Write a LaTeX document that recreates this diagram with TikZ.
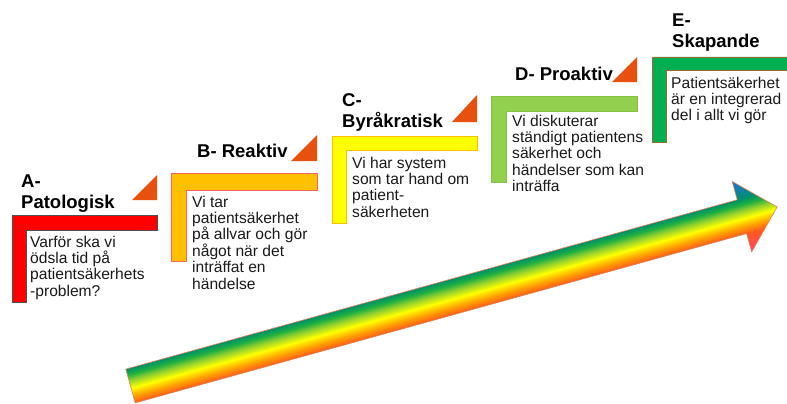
\documentclass[tikz,border=0pt]{standalone}
\usepackage{fontspec}
\setmainfont{Liberation Sans}
\definecolor{gpink}{HTML}{FF4470}
\definecolor{gred}{HTML}{FF5A1E}
\definecolor{gorange}{HTML}{FFA000}
\definecolor{gyellow}{HTML}{FFFF00}
\definecolor{glgreen}{HTML}{90D030}
\definecolor{ggreen}{HTML}{20B040}
\definecolor{gteal}{HTML}{00906A}
\definecolor{gblue}{HTML}{2070E0}
\definecolor{trired}{HTML}{E8500F}
\definecolor{lA}{HTML}{FF0000}
\definecolor{lAb}{HTML}{505050}
\definecolor{lB}{HTML}{FFC000}
\definecolor{lBb}{HTML}{FF6060}
\definecolor{lC}{HTML}{FFFF00}
\definecolor{lCb}{HTML}{FFC000}
\definecolor{lD}{HTML}{92D050}
\definecolor{lDb}{HTML}{86C044}
\definecolor{lE}{HTML}{00B050}
\definecolor{lEb}{HTML}{9C6B30}
\definecolor{txt}{HTML}{1A1A1A}
\definecolor{arrline}{HTML}{E08050}
\pgfdeclareverticalshading{arrowgrad}{100bp}{color(0bp)=(gpink); color(25bp)=(gpink); color(38bp)=(gred); color(43bp)=(gorange); color(48.6bp)=(gyellow); color(54bp)=(glgreen); color(58bp)=(ggreen); color(62bp)=(gteal); color(75bp)=(gblue); color(100bp)=(gblue)}
\newcommand\titlefont{\fontsize{18.5}{20.5}\selectfont\bfseries}
\newcommand\bodyfont{\fontsize{15.6}{16.4}\selectfont}
\tikzset{
  lbox/.style={line width=0.8pt},
  tri/.style={fill=trired, draw=none},
  title/.style={font=\titlefont, text=black, anchor=north west, inner sep=0pt, align=left, execute at begin node=\strut},
  body/.style={font=\bodyfont, text=txt, anchor=north west, inner sep=0pt, align=left, execute at begin node=\strut}
}
\begin{document}
\begin{tikzpicture}[x=1pt,y=-1pt]
\useasboundingbox[fill=white] (0,0) rectangle (787,404);
% gradient arrow
\begin{scope}[transform canvas={shift={(130.5,386)}, rotate=15.48}]
  \path[shading=arrowgrad, draw=arrline, line width=0.6pt]
    (0,-17.5) -- (634.5,-17.5) -- (634.5,-36.5) -- (671,0) -- (634.5,36.5) -- (634.5,17.5) -- (0,17.5) -- cycle;
\end{scope}
% L shapes
\draw[lbox, fill=lA, draw=lAb] (12,215) -- (157,215) -- (157,230) -- (26,230) -- (26,302) -- (12,302) -- cycle;
\draw[lbox, fill=lB, draw=lBb] (171,173) -- (317,173) -- (317,190) -- (186,190) -- (186,261) -- (171,261) -- cycle;
\draw[lbox, fill=lC, draw=lCb] (332,136) -- (477,136) -- (477,150) -- (346,150) -- (346,223) -- (332,223) -- cycle;
\draw[lbox, fill=lD, draw=lDb] (491,96) -- (637,96) -- (637,111) -- (506,111) -- (506,182) -- (491,182) -- cycle;
\draw[lbox, fill=lE, draw=lEb] (652,57) -- (795,57) -- (795,70) -- (666,70) -- (666,142) -- (652,142) -- cycle;
% triangles
\fill[tri] (132,200) -- (157,200) -- (157,175) -- cycle;
\fill[tri] (291,161) -- (317,161) -- (317,135) -- cycle;
\fill[tri] (452,122) -- (477,122) -- (477,95) -- cycle;
\fill[tri] (612,82) -- (637,82) -- (637,57) -- cycle;
% titles
\node[title] (tA) at (21,174.6) {A-\\Patologisk};
\node[title] (tB) at (197,142.6) {B- Reaktiv};
\node[title] (tC) at (342,93.6) {C-\\Byråkratisk};
\node[title] (tD) at (515,65.6) {D- Proaktiv};
\node[title] (tE) at (672,13.6) {E-\\Skapande};
% body texts
\node[body] (bA) at (30,235.5) {Varför ska vi\\ödsla tid på\\patientsäkerhets\\-problem?};
\node[body] (bB) at (192,195.5) {Vi tar\\patientsäkerhet\\på allvar\ och gör\\något när det\\inträffat en\\händelse};
\node[body] (bC) at (352,156.5) {Vi har system\\som tar hand\ om\\patient-\\säkerheten};
\node[body] (bD) at (512,114.5) {Vi diskuterar\\ständigt\ patientens\\säkerhet och\\händelser\ som kan\\inträffa};
\node[body] (bE) at (671,76.5) {Patientsäkerhet\\är en integrerad\\del\ i allt\ vi gör};
\end{tikzpicture}
\end{document}
